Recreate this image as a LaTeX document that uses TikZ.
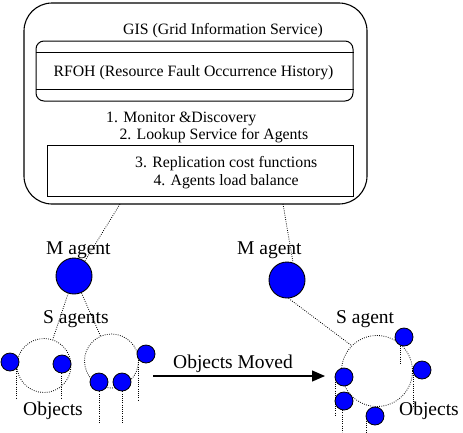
\documentclass[tikz,border=0pt]{standalone}
\usepackage{fontspec}
\setmainfont{Liberation Serif}
\usetikzlibrary{arrows.meta}
\begin{document}
\begin{tikzpicture}[x=1pt,y=-1pt,
  boxtext/.style={inner sep=0pt,anchor=base west,font=\fontsize{15.8}{18}\selectfont},
  labeltext/.style={inner sep=0pt,anchor=base west,font=\fontsize{19.5}{22}\selectfont},
  bigagent/.style={circle,draw=black,line width=0.9pt,fill=blue,minimum size=36pt,inner sep=0pt},
  obj/.style={circle,draw=black,line width=0.8pt,fill=blue,minimum size=18pt,inner sep=0pt},
  dotpat/.style={dash pattern=on 0.8pt off 1.4pt},
  group/.style={circle,draw=black,dotpat,line width=0.8pt,inner sep=0pt},
  dotline/.style={draw=black,dotpat,line width=0.8pt},
  frame/.style={draw=black,line width=1pt,inner sep=0pt}]
\useasboundingbox (0,0) rectangle (463,432);
% GIS box
\node[frame,line width=1.1pt,rounded corners=28pt,minimum width=343pt,minimum height=201pt] (gisbox) at (195.5,103.5) {};
\node[frame,rounded corners=8pt,minimum width=317pt,minimum height=60pt] (rfohbox) at (194.5,71) {};
\draw[line width=1pt] (rfohbox.west |- 0,52) coordinate (l1a) -- (rfohbox.east |- 0,52) coordinate (l1b);
\draw[line width=1pt] (rfohbox.west |- 0,89) coordinate (l2a) -- (rfohbox.east |- 0,89) coordinate (l2b);
\node[frame,minimum width=306pt,minimum height=51pt] (funcbox) at (200,170.5) {};
\node[boxtext] (gis) at (123,34.5) {GIS (Grid Information Service)};
\node[boxtext] (rfoh) at (53.3,76) {RFOH (Resource Fault Occurrence History)};
\node[boxtext] (t1) at (106,122) {1. Monitor \&Discovery};
\node[boxtext] (t2) at (119.3,139) {2. Lookup Service for Agents};
\node[boxtext] (t3) at (135,167) {3. Replication cost functions};
\node[boxtext] (t4) at (153.3,185) {4. Agents load balance};
% agents
\node[bigagent] (m1) at (74,276) {};
\node[bigagent] (m2) at (287,280) {};
\node[labeltext] (m1lab) at (46,254) {M agent};
\node[labeltext] (m2lab) at (237,254) {M agent};
\coordinate (g1) at (120,204);
\coordinate (g2) at (283,204);
\draw[dotline] (g1) -- (m1.54);
\draw[dotline] (g2) -- (m2.71);
% left groups
\node[group,minimum size=54pt] (c1) at (44,365.5) {};
\node[group,minimum size=54pt] (c2) at (111.5,361) {};
\draw[dotline] (m1) -- (c1);
\draw[dotline] (m1) -- (c2);
\node[labeltext] (slab) at (43,323) {S agents};
\node[obj] (o1) at (10,362) {};
\node[obj] (o2) at (62,364) {};
\node[obj] (o3) at (146,354) {};
\node[obj] (o4) at (99,382) {};
\node[obj] (o5) at (122,382) {};
\draw[dotline] (o1.-48) -- ++(0,30);
\draw[dotline] (o2.-96) -- ++(0,25);
\draw[dotline] (o3.-140) -- ++(0,40);
\draw[dotline] (o4.south) -- ++(0,32);
\draw[dotline] (o5.south) -- ++(0,32);
\node[labeltext] (objl) at (23,415) {Objects};
% arrow
\coordinate (a1) at (153,376);
\coordinate (a2) at (325,376);
\draw[line width=1.3pt,-{Triangle[length=13pt,width=11pt]}] (a1) -- (a2);
\node[labeltext] (moved) at (173,368) {Objects Moved};
% right group
\node[group,minimum size=71pt] (c3) at (377,371) {};
\draw[dotline] (m2.-85) -- (c3.135);
\node[labeltext] (slab2) at (336,323) {S agent};
\node[obj] (r1) at (404,337) {};
\node[obj] (r2) at (422,370) {};
\node[obj] (r3) at (344,377) {};
\node[obj] (r4) at (344,401) {};
\node[obj] (r5) at (375,416) {};
\draw[dotline] (r1.-115) -- ++(0,19);
\draw[dotline] (r2.-150) -- ++(0,33);
\draw[dotline] (r3.-150) -- ++(0,35);
\draw[dotline] (r4.-100) -- ++(0,22);
\draw[dotline] (r5.-150) -- ++(0,12);
\node[labeltext] (objr) at (399,415) {Objects};
\end{tikzpicture}
\end{document}
